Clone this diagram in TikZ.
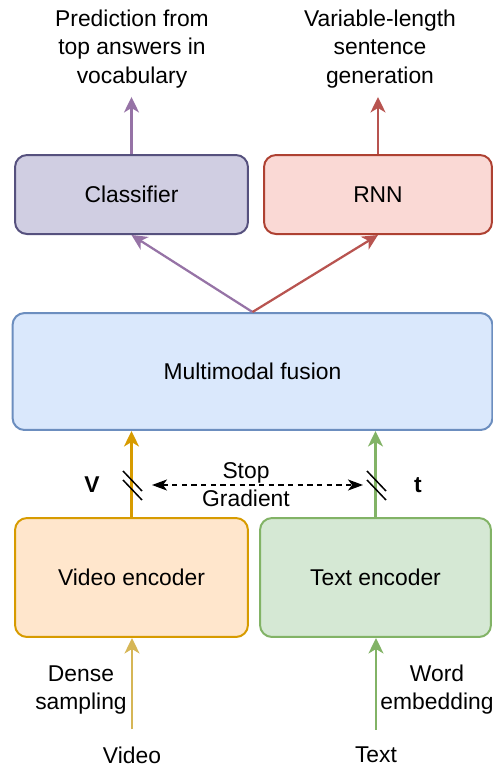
\documentclass[tikz,border=0pt]{standalone}
\usepackage{fontspec}
\setmainfont{Liberation Sans}
\usetikzlibrary{arrows.meta}
\definecolor{clsfill}{HTML}{D0CEE2}
\definecolor{clsline}{HTML}{56517E}
\definecolor{clsarrow}{HTML}{9673A6}
\definecolor{rnnfill}{HTML}{FAD9D5}
\definecolor{rnnline}{HTML}{AE4132}
\definecolor{rnnarrow}{HTML}{B85450}
\definecolor{fusfill}{HTML}{DAE8FC}
\definecolor{fusline}{HTML}{6C8EBF}
\definecolor{vidfill}{HTML}{FFE6CC}
\definecolor{vidline}{HTML}{D79B00}
\definecolor{vidin}{HTML}{D6B656}
\definecolor{txtfill}{HTML}{D5E8D4}
\definecolor{txtline}{HTML}{82B366}

\begin{document}
\begin{tikzpicture}[x=0.02cm,y=-0.02cm,
  font=\fontsize{13}{16}\selectfont,
  block/.style={draw, rounded corners=0.24cm, line width=0.04cm, inner sep=0pt},
  flow/.style={-{Stealth[length=0.31cm,width=0.3cm,inset=0.09cm]}, line width=0.045cm},
  lbl/.style={align=center}]
\useasboundingbox (0,0) rectangle (493,769);
% output heads
\node[block, fill=clsfill, draw=clsline, minimum width=4.66cm, minimum height=1.58cm]
  (classifier) at (131.5,194.5) {Classifier};
\node[block, fill=rnnfill, draw=rnnline, minimum width=4.56cm, minimum height=1.58cm]
  (rnn) at (378,194.5) {RNN};
\node[lbl] (predtext) at (132,49) {Prediction from\\top answers in\\vocabulary};
\node[lbl] (gentext) at (380,49) {Variable-length\\sentence\\generation};
% fusion
\node[block, fill=fusfill, draw=fusline, minimum width=9.6cm, minimum height=2.34cm]
  (fusion) at (252.5,371.5) {Multimodal fusion};
% encoders
\node[block, fill=vidfill, draw=vidline, minimum width=4.66cm, minimum height=2.38cm]
  (videnc) at (131.5,577.5) {Video encoder};
\node[block, fill=txtfill, draw=txtline, minimum width=4.62cm, minimum height=2.38cm]
  (txtenc) at (375.5,577.5) {Text encoder};
% inputs
\node (video) at (132,755) {Video};
\node (text) at (376,755) {Text};
\node[lbl] (dense) at (81,690) {Dense\\sampling};
\node[lbl] (wordemb) at (437,690) {Word\\embedding};
% features with stop gradient
\coordinate (vcut) at (132,485);
\coordinate (tcut) at (376,485);
\node[font=\fontsize{13}{16}\selectfont\bfseries] (vlab) at (92,485) {V};
\node[font=\fontsize{13}{16}\selectfont\bfseries] (tlab) at (418,485) {t};
\node[lbl] (stopgrad) at (246,485) {Stop\\Gradient};

% connectors
\draw[flow, clsarrow, shorten >=0.06cm] (classifier.north) -- (classifier.north |- predtext.south);
\draw[flow, rnnarrow, shorten >=0.06cm] (rnn.north) -- (rnn.north |- gentext.south);
\draw[flow, clsarrow] (fusion.north) -- (classifier.south);
\draw[flow, rnnarrow] (fusion.north) -- (rnn.south);
\draw[flow, vidline] (videnc.north) -- (videnc.north |- fusion.south);
\draw[flow, txtline] (txtenc.north) -- (txtenc.north |- fusion.south);
\draw[flow, vidin, shorten <=0.22cm] (video.north) -- (video.north |- videnc.south);
\draw[flow, txtline, shorten <=0.22cm] (text.north) -- (text.north |- txtenc.south);
% cut marks
\foreach \cut in {vcut,tcut}{
  \draw[line width=0.03cm] ([shift={(-9,-14)}]\cut) -- ([shift={(10,6)}]\cut);
  \draw[line width=0.03cm] ([shift={(-9,-5)}]\cut) -- ([shift={(10,15)}]\cut);
}
\draw[{Stealth[length=0.3cm,width=0.22cm,inset=0.08cm]}-{Stealth[length=0.3cm,width=0.22cm,inset=0.08cm]},
  line width=0.03cm, dash pattern=on 3pt off 2.5pt, shorten <=0.4cm, shorten >=0.26cm]
  (vcut) -- (tcut);
\end{tikzpicture}
\end{document}
